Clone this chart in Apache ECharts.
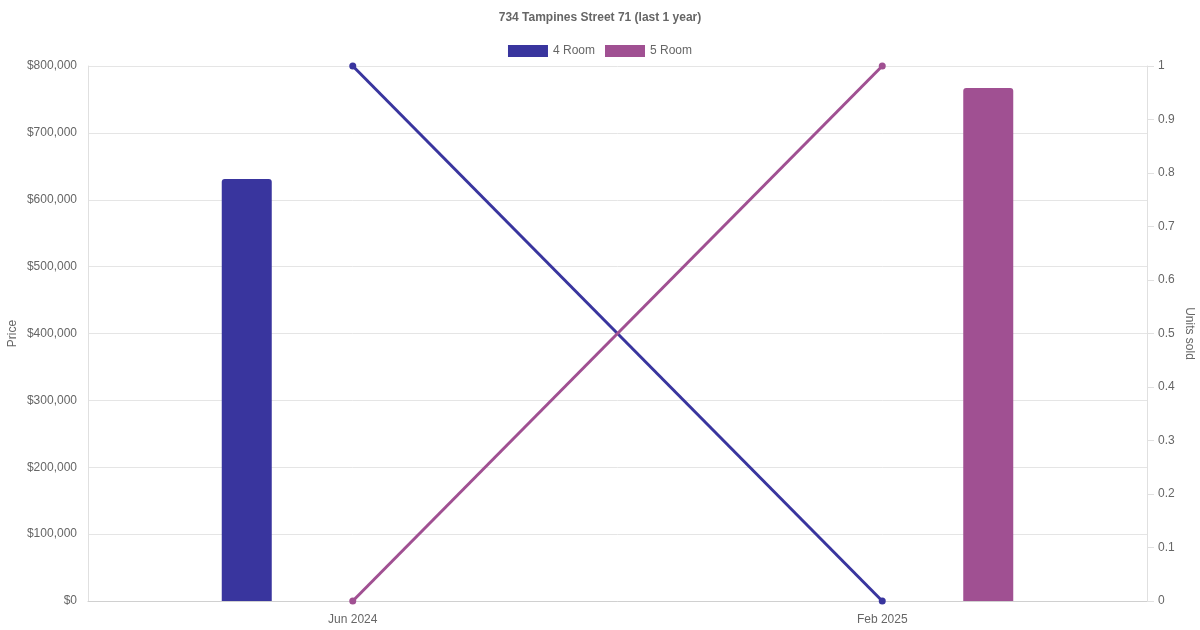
<!DOCTYPE html>
<html>
<head>
<meta charset="utf-8">
<script src="https://cdn.jsdelivr.net/npm/echarts@6/dist/echarts.min.js"></script>
<style>html,body{margin:0;padding:0;background:#fff}#c{width:1200px;height:630px}</style>
</head>
<body>
<div id="c"></div>
<script>
const categories = ['Jun 2024', 'Feb 2025'];
const price4Room = [631000, null];
const price5Room = [null, 767000];
const units4Room = [1, 0];
const units5Room = [0, 1];
const color4 = '#39359e';
const color5 = '#a05092';
const font = 'Liberation Sans, Arial, Helvetica, sans-serif';

const chart = echarts.init(document.getElementById('c'), null, {renderer: 'canvas'});
chart.setOption({
  animation: false,
  backgroundColor: '#fff',
  textStyle: {fontFamily: font},
  title: {
    text: '734 Tampines Street 71 (last 1 year)',
    left: 'center', top: 7,
    textStyle: {fontSize: 12, fontWeight: 'bold', color: '#666', fontFamily: font}
  },
  legend: {
    top: 40, left: 'center',
    icon: 'rect', itemWidth: 40, itemHeight: 12, itemGap: 10,
    data: ['4 Room', '5 Room'],
    textStyle: {fontSize: 12, color: '#666', fontFamily: font}
  },
  grid: {left: 88, right: 53, top: 66, bottom: 29, containLabel: false, outerBoundsMode: 'none'},
  xAxis: {
    type: 'category', data: categories,
    axisLine: {lineStyle: {color: '#d0d0d0'}},
    axisTick: {show: false},
    axisLabel: {color: '#666', fontSize: 12, margin: 13, fontFamily: font}
  },
  yAxis: [{
    type: 'value', min: 0, max: 800000, interval: 100000,
    name: 'Price', nameLocation: 'middle', nameGap: 69, nameRotate: 90, nameMoveOverlap: false,
    nameTextStyle: {color: '#666', fontSize: 12, fontFamily: font},
    axisLine: {show: true, lineStyle: {color: '#e0e0e0'}},
    axisTick: {show: false},
    splitLine: {lineStyle: {color: '#e5e5e5'}},
    axisLabel: {color: '#666', fontSize: 12, margin: 11, fontFamily: font,
      formatter: v => '$' + v.toLocaleString('en-US')}
  }, {
    type: 'value', min: 0, max: 1, interval: 0.1, position: 'right',
    name: 'Units sold', nameLocation: 'middle', nameGap: 36, nameRotate: -90, nameMoveOverlap: false,
    nameTextStyle: {color: '#666', fontSize: 12, fontFamily: font},
    axisLine: {show: true, lineStyle: {color: '#e0e0e0'}},
    axisTick: {show: true, length: 7, lineStyle: {color: '#e0e0e0'}},
    splitLine: {show: false},
    axisLabel: {color: '#666', fontSize: 12, margin: 11, fontFamily: font,
      formatter: v => String(Math.round(v * 10) / 10)}
  }],
  series: [
    {name: '4 Room', type: 'bar', yAxisIndex: 0, data: price4Room, barWidth: 50, barGap: '324%',
      itemStyle: {color: color4, borderRadius: [3, 3, 0, 0]}, z: 2},
    {name: '5 Room', type: 'bar', yAxisIndex: 0, data: price5Room, barWidth: 50, barGap: '324%',
      itemStyle: {color: color5, borderRadius: [3, 3, 0, 0]}, z: 2},
    {name: '4 Room', type: 'line', yAxisIndex: 1, data: units4Room,
      symbol: 'circle', symbolSize: 7, lineStyle: {width: 3, color: color4},
      itemStyle: {color: color4}, z: 3},
    {name: '5 Room', type: 'line', yAxisIndex: 1, data: units5Room,
      symbol: 'circle', symbolSize: 7, lineStyle: {width: 3, color: color5},
      itemStyle: {color: color5}, z: 3}
  ]
});
</script>
</body>
</html>
